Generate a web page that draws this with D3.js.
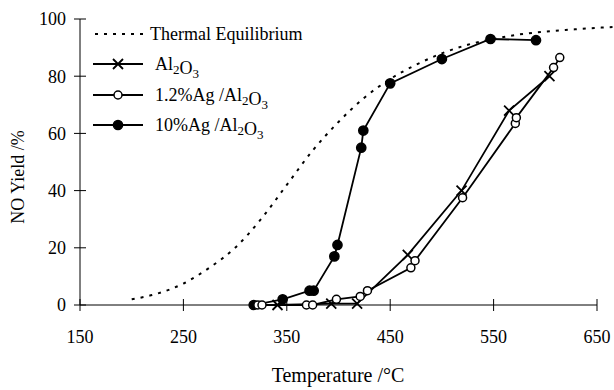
<!DOCTYPE html>
<html>
<head>
<meta charset="utf-8">
<script src="https://cdn.jsdelivr.net/npm/d3@7"></script>
<style>
  body { margin: 0; background: #fff; }
  svg text { font-family: "Liberation Serif", "Times New Roman", serif; fill: #000; }
</style>
</head>
<body>
<div id="chart"></div>
<script>
// data: [temperature °C, NO yield %]
var equilibrium = [[200, 2], [225, 4], [250, 7.5], [275, 13], [300, 20], [325, 30], [350, 42],
  [375, 54], [400, 64], [425, 72.5], [450, 79], [475, 84], [500, 88], [525, 91], [550, 93],
  [575, 94.6], [600, 95.6], [625, 96.3], [650, 96.9], [665, 97.2]];
var alumina = [[341, 0], [393, 0.5], [418, 0.5], [467, 17.5], [519, 40], [565, 68], [604, 80]];
var ag12 = [[322, 0], [326, 0], [369, 0], [375, 0], [398, 2], [421, 3], [428, 5], [470, 13],
  [474, 15.5], [520, 37.5], [571, 63.5], [572, 65.5], [608, 83], [614, 86.5]];
var ag10 = [[318, 0], [346, 2], [372, 5], [376, 5], [396, 17], [399, 21], [422, 55], [424, 61],
  [450, 77.5], [500, 86], [547, 93], [591, 92.6]];
var xTicks = [150, 250, 350, 450, 550, 650];
var yTicks = [0, 20, 40, 60, 80, 100];
var legendLabels = ['Thermal Equilibrium', 'Al2O3', '1.2%Ag /Al2O3', '10%Ag /Al2O3'];

var width = 614, height = 390;
var svg = d3.select('#chart').append('svg')
  .attr('width', width)
  .attr('height', height);

var x = d3.scaleLinear().domain([150, 650]).range([80, 597]);
var y = d3.scaleLinear().domain([0, 100]).range([305, 19]);

// axes, ticks cross the line
var xAxis = svg.append('g').attr('transform', 'translate(0,' + y(0) + ')');
xAxis.append('line').attr('x1', x(150)).attr('x2', x(650)).attr('stroke', '#000');
xAxis.selectAll('.tick').data(xTicks).enter().append('line')
  .attr('x1', d => x(d)).attr('x2', d => x(d))
  .attr('y1', -6).attr('y2', 6).attr('stroke', '#000');
xAxis.selectAll('text').data(xTicks).enter().append('text')
  .attr('x', d => x(d)).attr('y', 38)
  .attr('text-anchor', 'middle').style('font-size', '18px')
  .text(d => d);

var yAxis = svg.append('g').attr('transform', 'translate(' + x(150) + ',0)');
yAxis.append('line').attr('y1', y(0)).attr('y2', y(100)).attr('stroke', '#000');
yAxis.selectAll('.tick').data(yTicks).enter().append('line')
  .attr('y1', d => y(d)).attr('y2', d => y(d))
  .attr('x1', -6).attr('x2', 6).attr('stroke', '#000');
yAxis.selectAll('text').data(yTicks).enter().append('text')
  .attr('x', -14).attr('y', d => y(d)).attr('dy', '0.35em')
  .attr('text-anchor', 'end').style('font-size', '18px')
  .text(d => d);

svg.append('text')
  .attr('x', 338).attr('y', 382)
  .attr('text-anchor', 'middle').style('font-size', '20px')
  .text('Temperature /°C');
svg.append('text')
  .attr('transform', 'translate(24,177) rotate(-90)')
  .attr('text-anchor', 'middle').style('font-size', '18px')
  .text('NO Yield /%');

var line = d3.line().x(d => x(d[0])).y(d => y(d[1]));

// thermal equilibrium, dotted
svg.append('path').datum(equilibrium)
  .attr('d', d3.line().curve(d3.curveMonotoneX).x(d => x(d[0])).y(d => y(d[1])))
  .attr('fill', 'none').attr('stroke', '#000')
  .attr('stroke-width', 2).attr('stroke-dasharray', '3,6');

function drawSeries (data, kind) {
  svg.append('path').datum(data)
    .attr('d', line)
    .attr('fill', 'none').attr('stroke', '#000').attr('stroke-width', 1.8);
  drawMarkers(svg, data.map(d => [x(d[0]), y(d[1])]), kind);
}

function drawMarkers (g, pts, kind) {
  if (kind === 'cross') {
    g.selectAll(null).data(pts).enter().append('path')
      .attr('d', d => 'M' + (d[0] - 5) + ',' + (d[1] - 5) + 'L' + (d[0] + 5) + ',' + (d[1] + 5) +
        'M' + (d[0] - 5) + ',' + (d[1] + 5) + 'L' + (d[0] + 5) + ',' + (d[1] - 5))
      .attr('stroke', '#000').attr('stroke-width', 1.8);
  } else {
    g.selectAll(null).data(pts).enter().append('circle')
      .attr('cx', d => d[0]).attr('cy', d => d[1])
      .attr('r', kind === 'open' ? 4 : 4.6)
      .attr('fill', kind === 'open' ? '#fff' : '#000')
      .attr('stroke', '#000').attr('stroke-width', 1.5);
  }
}

drawSeries(ag10, 'filled');
drawSeries(alumina, 'cross');
drawSeries(ag12, 'open');

// legend
var legendY = [34, 64, 95, 125];
var legend = svg.append('g');
legend.append('line')
  .attr('x1', 95).attr('x2', 147).attr('y1', legendY[0]).attr('y2', legendY[0])
  .attr('stroke', '#000').attr('stroke-width', 2).attr('stroke-dasharray', '3,6');
var kinds = ['cross', 'open', 'filled'];
kinds.forEach(function (k, i) {
  var ly = legendY[i + 1];
  legend.append('line')
    .attr('x1', 93).attr('x2', 143).attr('y1', ly).attr('y2', ly)
    .attr('stroke', '#000').attr('stroke-width', 1.8);
  drawMarkers(legend.append('g'), [[118, ly]], k);
});

function chemLabel (t, label) {
  // write "Al2O3" style text with subscripts
  label.split(/(\d)(?=[A-Z]|$)/).forEach(function (part) {
    if (part === '') return;
    if (/^\d$/.test(part)) {
      t.append('tspan').attr('dy', 4).style('font-size', '13px').text(part);
      t.append('tspan').attr('dy', -4).text('');
    } else {
      t.append('tspan').text(part);
    }
  });
}

legendLabels.forEach(function (lab, i) {
  var t = legend.append('text')
    .attr('x', i === 0 ? 150 : 155).attr('y', legendY[i]).attr('dy', '0.35em')
    .style('font-size', '18px');
  if (i === 0) t.text(lab);
  else chemLabel(t, lab);
});
</script>
</body>
</html>
